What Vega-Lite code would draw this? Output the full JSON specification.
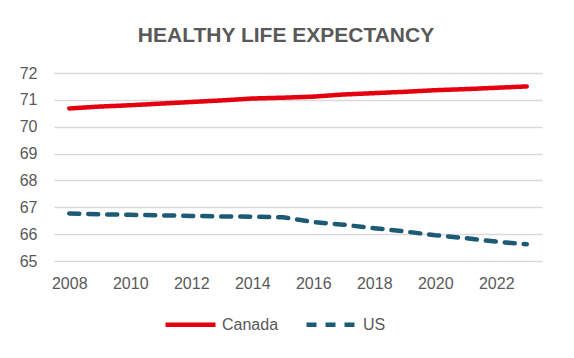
{
  "$schema": "https://vega.github.io/schema/vega-lite/v6.json",
  "autosize": "none",
  "width": 488,
  "height": 188,
  "padding": {"left": 54, "top": 73, "right": 32, "bottom": 97},
  "background": "white",
  "config": {
    "view": {"stroke": null},
    "font": "Liberation Sans"
  },
  "title": {
    "text": "HEALTHY LIFE EXPECTANCY",
    "anchor": "middle",
    "frame": "group",
    "dx": -12,
    "fontSize": 21,
    "fontWeight": "bold",
    "color": "#595959",
    "font": "Liberation Sans",
    "offset": 19
  },
  "data": {
    "values": [
      {"year": 2008, "country": "Canada", "value": 70.68},
      {"year": 2009, "country": "Canada", "value": 70.75},
      {"year": 2010, "country": "Canada", "value": 70.8},
      {"year": 2011, "country": "Canada", "value": 70.86},
      {"year": 2012, "country": "Canada", "value": 70.92},
      {"year": 2013, "country": "Canada", "value": 70.98},
      {"year": 2014, "country": "Canada", "value": 71.05},
      {"year": 2015, "country": "Canada", "value": 71.08},
      {"year": 2016, "country": "Canada", "value": 71.12},
      {"year": 2017, "country": "Canada", "value": 71.2},
      {"year": 2018, "country": "Canada", "value": 71.25},
      {"year": 2019, "country": "Canada", "value": 71.3},
      {"year": 2020, "country": "Canada", "value": 71.36},
      {"year": 2021, "country": "Canada", "value": 71.4},
      {"year": 2022, "country": "Canada", "value": 71.45},
      {"year": 2023, "country": "Canada", "value": 71.5},
      {"year": 2008, "country": "US", "value": 66.77},
      {"year": 2009, "country": "US", "value": 66.74},
      {"year": 2010, "country": "US", "value": 66.72},
      {"year": 2011, "country": "US", "value": 66.7},
      {"year": 2012, "country": "US", "value": 66.68},
      {"year": 2013, "country": "US", "value": 66.66},
      {"year": 2014, "country": "US", "value": 66.65},
      {"year": 2015, "country": "US", "value": 66.63},
      {"year": 2016, "country": "US", "value": 66.45},
      {"year": 2017, "country": "US", "value": 66.35},
      {"year": 2018, "country": "US", "value": 66.22},
      {"year": 2019, "country": "US", "value": 66.1},
      {"year": 2020, "country": "US", "value": 65.96},
      {"year": 2021, "country": "US", "value": 65.85},
      {"year": 2022, "country": "US", "value": 65.72},
      {"year": 2023, "country": "US", "value": 65.62}
    ]
  },
  "mark": {"type": "line", "strokeWidth": 4.5, "strokeCap": "round", "strokeJoin": "round"},
  "encoding": {
    "x": {
      "field": "year",
      "type": "quantitative",
      "scale": {"domain": [2007.5, 2023.5], "nice": false, "zero": false},
      "axis": {
        "title": null,
        "values": [2008, 2010, 2012, 2014, 2016, 2018, 2020, 2022],
        "format": "d",
        "grid": false,
        "domain": false,
        "ticks": false,
        "labelFontSize": 16,
        "labelColor": "#595959",
        "labelPadding": 14,
        "labelFont": "Liberation Sans"
      }
    },
    "y": {
      "field": "value",
      "type": "quantitative",
      "scale": {"domain": [65, 72], "nice": false, "zero": false},
      "axis": {
        "title": null,
        "values": [65, 66, 67, 68, 69, 70, 71, 72],
        "grid": true,
        "gridColor": "#D9D9D9",
        "gridWidth": 1.5,
        "domain": false,
        "ticks": false,
        "labelFontSize": 16,
        "labelColor": "#595959",
        "labelPadding": 17,
        "labelFont": "Liberation Sans"
      }
    },
    "color": {
      "field": "country",
      "type": "nominal",
      "scale": {"domain": ["Canada", "US"], "range": ["#E5000F", "#1D5A75"]},
      "legend": {
        "title": null,
        "orient": "none",
        "direction": "horizontal",
        "legendX": 109,
        "legendY": 224,
        "symbolType": "stroke",
        "symbolSize": 2500,
        "symbolStrokeWidth": 4.5,
        "labelFontSize": 16,
        "labelColor": "#595959",
        "labelFont": "Liberation Sans",
        "labelOffset": 4,
        "columnPadding": 18
      }
    },
    "strokeDash": {
      "field": "country",
      "type": "nominal",
      "scale": {"domain": ["Canada", "US"], "range": [[1, 0], [10, 9]]},
      "legend": {
        "title": null,
        "orient": "none",
        "direction": "horizontal",
        "legendX": 109,
        "legendY": 224,
        "symbolType": "stroke",
        "symbolSize": 2500,
        "symbolStrokeWidth": 4.5,
        "labelFontSize": 16,
        "labelColor": "#595959",
        "labelFont": "Liberation Sans",
        "labelOffset": 4,
        "columnPadding": 18
      }
    }
  }
}
